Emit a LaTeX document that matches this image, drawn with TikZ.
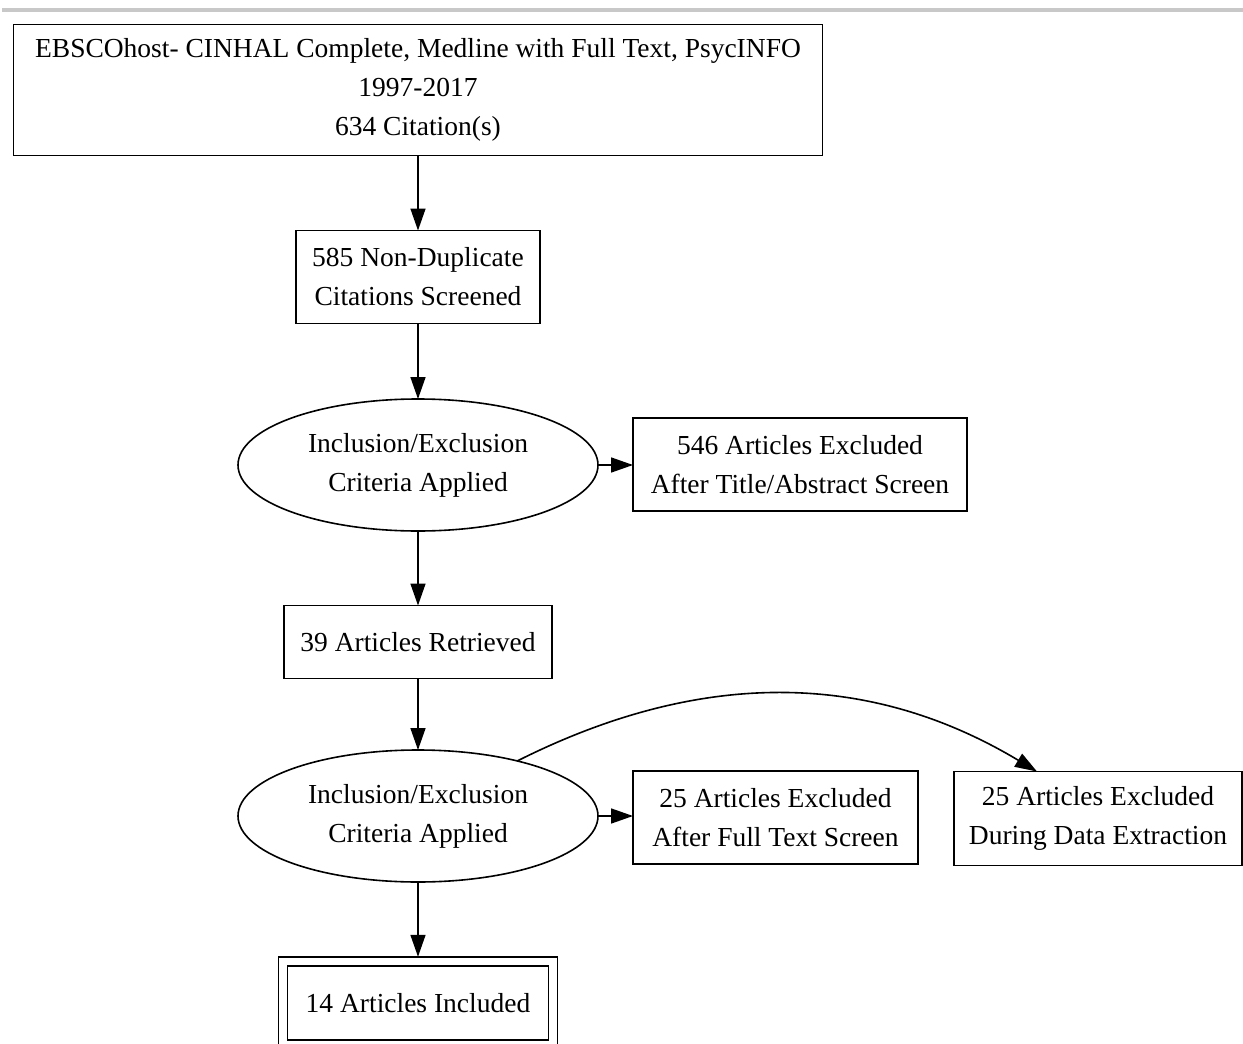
\documentclass[tikz,border=0pt]{standalone}
\usepackage{fontspec}
\setmainfont{Liberation Serif}
\usetikzlibrary{arrows.meta,shapes.geometric}
\definecolor{rulegray}{HTML}{C8C8C8}
\begin{document}
\begin{tikzpicture}[x=1pt,y=-1pt,
  txt/.style={align=center,font=\fontsize{27.5}{39}\selectfont,inner sep=0pt,outer sep=0pt},
  box/.style={txt,draw,line width=1.6pt,rectangle},
  oval/.style={txt,draw,line width=1.6pt,ellipse,minimum width=360pt,minimum height=132pt},
  arr/.style={-{Triangle[length=22pt,width=15pt]},line width=1.6pt}]
\useasboundingbox (0,0) rectangle (1243,1044);
\fill[rulegray] (2,8) rectangle (1243,12);

\node[box,minimum width=809pt,minimum height=131pt] (src) at (418,90)
  {EBSCOhost- CINHAL Complete, Medline with Full Text, PsycINFO\\1997-2017\\634 Citation(s)};
\node[box,minimum width=244pt,minimum height=93pt] (nd) at (418,277)
  {585 Non-Duplicate\\Citations Screened};
\node[oval] (e1) at (418,465) {Inclusion/Exclusion\\Criteria Applied};
\node[box,minimum width=334pt,minimum height=93pt] (x1) at (800,464.5)
  {546 Articles Excluded\\After Title/Abstract Screen};
\node[box,minimum width=268pt,minimum height=73pt] (ret) at (418,642)
  {39 Articles Retrieved};
\node[oval] (e2) at (418,816) {Inclusion/Exclusion\\Criteria Applied};
\node[box,minimum width=285pt,minimum height=93pt] (x2) at (775.5,817.5)
  {25 Articles Excluded\\After Full Text Screen};
\node[box,minimum width=288pt,minimum height=94pt] (x3) at (1098,818.5)
  {25 Articles Excluded\\During Data Extraction};
\node[box,double,double distance=7.4pt,outer sep=5pt,minimum width=270pt,minimum height=82.5pt] (inc) at (418,1003)
  {14 Articles Included};

\draw[arr] (src) -- (nd);
\draw[arr] (nd) -- (e1);
\draw[arr] (e1.east) -- (e1.east -| x1.west);
\draw[arr] (e1) -- (ret);
\draw[arr] (ret) -- (e2);
\draw[arr] (e2.east) -- (e2.east -| x2.west);
\draw[arr] (e2.29) .. controls +(175,-88) and +(-175,-105) .. ([xshift=-61pt]x3.north);
\draw[arr] (e2) -- (inc);
\end{tikzpicture}
\end{document}
